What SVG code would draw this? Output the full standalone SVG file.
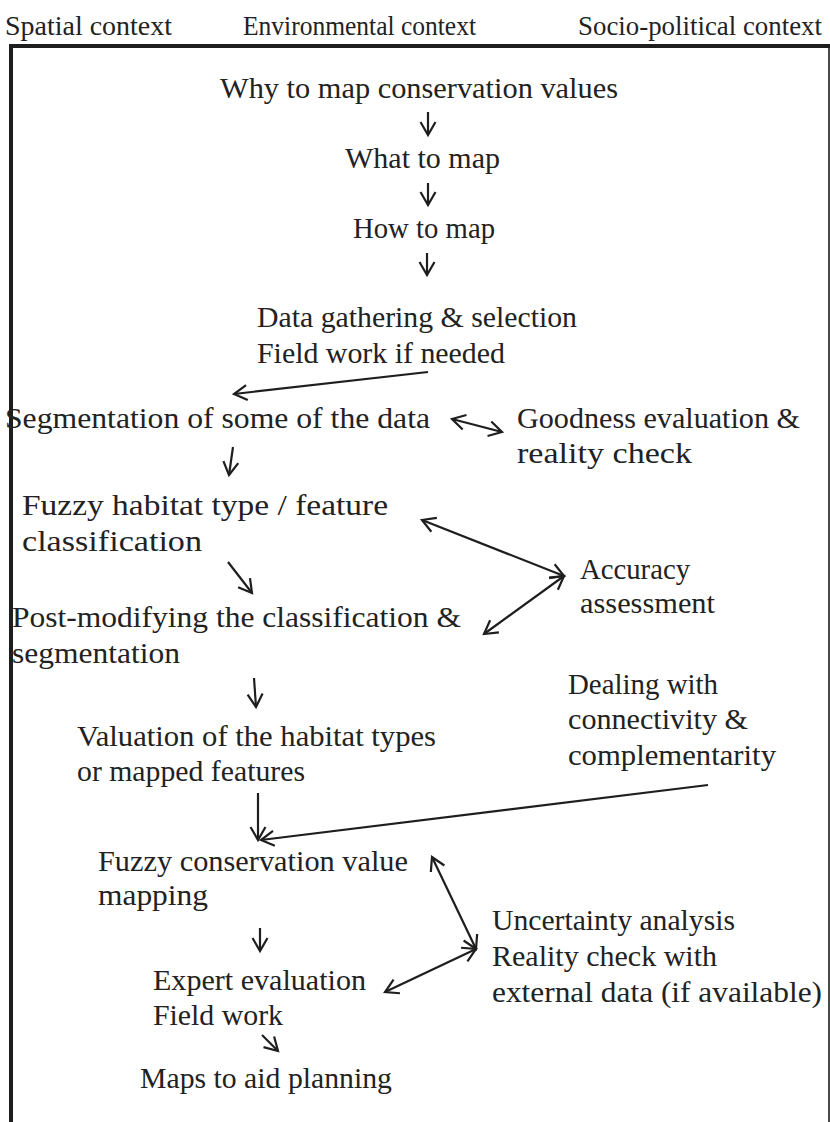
<svg xmlns="http://www.w3.org/2000/svg" width="830" height="1122" viewBox="0 0 830 1122">
  <style>
    text { font-family: "Liberation Serif", "Times New Roman", serif; font-size: 29px; fill: #222; }
    .head { font-size: 27.5px; }
    .frame { stroke: #1e1e1e; fill: none; }
    .conn { stroke: #1e1e1e; stroke-width: 2.2; fill: none; }
    .one { marker-end: url(#head); }
    .two { marker-start: url(#head); marker-end: url(#head); }
  </style>
  <defs>
    <marker id="head" viewBox="-16 -10 20 20" refX="0" refY="0" markerWidth="20" markerHeight="20" markerUnits="userSpaceOnUse" orient="auto-start-reverse">
      <path d="M-13,-7.5 L0,0 L-13,7.5" fill="none" stroke="#1e1e1e" stroke-width="2.2" stroke-linejoin="miter"/>
    </marker>
  </defs>
  <rect width="830" height="1122" fill="#fff"/>

  <!-- context headings -->
  <g id="contexts">
    <text class="head" x="5" y="35" textLength="167" lengthAdjust="spacingAndGlyphs">Spatial context</text>
    <text class="head" x="243" y="35" textLength="233" lengthAdjust="spacingAndGlyphs">Environmental context</text>
    <text class="head" x="578" y="35" textLength="244" lengthAdjust="spacingAndGlyphs">Socio-political context</text>
  </g>

  <!-- open frame -->
  <g id="frame">
    <line class="frame" x1="9" y1="46" x2="830" y2="46" stroke-width="4"/>
    <line class="frame" x1="11" y1="44" x2="11" y2="1122" stroke-width="4"/>
    <line class="frame" x1="829" y1="46" x2="829" y2="1122" stroke-width="1.6"/>
  </g>

  <g id="why"><text x="220" y="98" textLength="398" lengthAdjust="spacingAndGlyphs">Why to map conservation values</text></g>
  <g id="what"><text x="345" y="168" textLength="155" lengthAdjust="spacingAndGlyphs">What to map</text></g>
  <g id="how"><text x="353" y="238" textLength="142" lengthAdjust="spacingAndGlyphs">How to map</text></g>
  <g id="data">
    <text x="257" y="327" textLength="320" lengthAdjust="spacingAndGlyphs">Data gathering &amp; selection</text>
    <text x="257" y="363" textLength="248" lengthAdjust="spacingAndGlyphs">Field work if needed</text>
  </g>
  <g id="segmentation"><text x="5" y="428" textLength="425" lengthAdjust="spacingAndGlyphs">Segmentation of some of the data</text></g>
  <g id="goodness">
    <text x="517" y="428" textLength="283" lengthAdjust="spacingAndGlyphs">Goodness evaluation &amp;</text>
    <text x="517" y="463" textLength="175" lengthAdjust="spacingAndGlyphs">reality check</text>
  </g>
  <g id="fuzzy-habitat">
    <text x="22" y="515" textLength="366" lengthAdjust="spacingAndGlyphs">Fuzzy habitat type / feature</text>
    <text x="22" y="551" textLength="180" lengthAdjust="spacingAndGlyphs">classification</text>
  </g>
  <g id="accuracy">
    <text x="580" y="579" textLength="110" lengthAdjust="spacingAndGlyphs">Accuracy</text>
    <text x="580" y="613" textLength="135" lengthAdjust="spacingAndGlyphs">assessment</text>
  </g>
  <g id="post-modifying">
    <text x="12" y="627" textLength="449" lengthAdjust="spacingAndGlyphs">Post-modifying the classification &amp;</text>
    <text x="12" y="663" textLength="168" lengthAdjust="spacingAndGlyphs">segmentation</text>
  </g>
  <g id="connectivity">
    <text x="568" y="694" textLength="150" lengthAdjust="spacingAndGlyphs">Dealing with</text>
    <text x="568" y="729" textLength="180" lengthAdjust="spacingAndGlyphs">connectivity &amp;</text>
    <text x="568" y="765" textLength="208" lengthAdjust="spacingAndGlyphs">complementarity</text>
  </g>
  <g id="valuation">
    <text x="77" y="746" textLength="359" lengthAdjust="spacingAndGlyphs">Valuation of the habitat types</text>
    <text x="77" y="781" textLength="228" lengthAdjust="spacingAndGlyphs">or mapped features</text>
  </g>
  <g id="fuzzy-value">
    <text x="98" y="871" textLength="310" lengthAdjust="spacingAndGlyphs">Fuzzy conservation value</text>
    <text x="98" y="905" textLength="110" lengthAdjust="spacingAndGlyphs">mapping</text>
  </g>
  <g id="uncertainty">
    <text x="492" y="930" textLength="243" lengthAdjust="spacingAndGlyphs">Uncertainty analysis</text>
    <text x="492" y="966" textLength="225" lengthAdjust="spacingAndGlyphs">Reality check with</text>
    <text x="492" y="1002" textLength="330" lengthAdjust="spacingAndGlyphs">external data (if available)</text>
  </g>
  <g id="expert">
    <text x="153" y="990" textLength="213" lengthAdjust="spacingAndGlyphs">Expert evaluation</text>
    <text x="153" y="1025" textLength="130" lengthAdjust="spacingAndGlyphs">Field work</text>
  </g>
  <g id="maps"><text x="140" y="1088" textLength="252" lengthAdjust="spacingAndGlyphs">Maps to aid planning</text></g>

  <g id="connectors">
    <line class="conn one" x1="428" y1="112" x2="428" y2="135"/>
    <line class="conn one" x1="428" y1="183" x2="428" y2="205"/>
    <line class="conn one" x1="427" y1="253" x2="427" y2="275"/>
    <line class="conn one" x1="428" y1="372" x2="234" y2="394"/>
    <line class="conn two" x1="452" y1="419" x2="502" y2="432"/>
    <line class="conn one" x1="233" y1="447" x2="229" y2="475"/>
    <line class="conn two" x1="422" y1="520" x2="564" y2="576"/>
    <line class="conn two" x1="564" y1="576" x2="484" y2="634"/>
    <line class="conn one" x1="228" y1="562" x2="252" y2="593"/>
    <line class="conn one" x1="254" y1="678" x2="256" y2="707"/>
    <line class="conn one" x1="258" y1="793" x2="258" y2="840"/>
    <line class="conn one" x1="708" y1="785" x2="261" y2="840"/>
    <line class="conn two" x1="432" y1="857" x2="476" y2="949"/>
    <line class="conn two" x1="476" y1="949" x2="385" y2="992"/>
    <line class="conn one" x1="260" y1="928" x2="260" y2="951"/>
    <line class="conn one" x1="262" y1="1035" x2="278" y2="1051"/>
  </g>
</svg>
